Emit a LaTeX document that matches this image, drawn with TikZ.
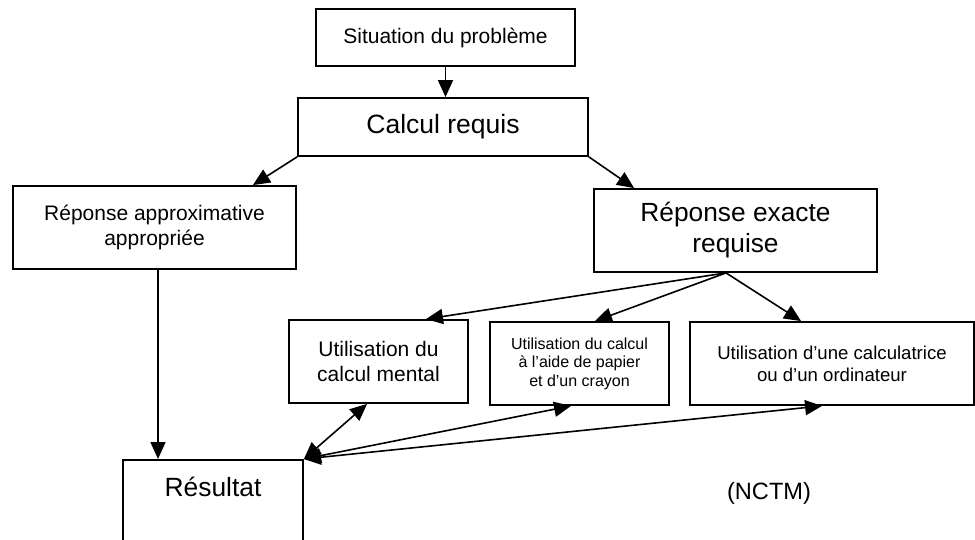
\documentclass[tikz,border=0pt]{standalone}
\usepackage{fontspec}
\setmainfont{Liberation Sans}
\usetikzlibrary{arrows.meta}

\begin{document}
\begin{tikzpicture}[
  x=1pt, y=-1pt,
  box/.style={draw=black, line width=1.8pt, inner sep=0pt, align=center},
  arrow/.style={-{Triangle[length=17pt,width=15pt]}, line width=1.6pt},
  both/.style={{Triangle[length=17pt,width=15pt]}-{Triangle[length=17pt,width=15pt]}, line width=1.6pt},
]
  \clip (0,0) rectangle (975,540);

  \node[box, minimum width=259pt, minimum height=57pt,
        font=\fontsize{21}{24}\selectfont] (sit) at (445.5,37.5) {Situation du problème};
  \node[box, minimum width=290pt, minimum height=58pt,
        font=\fontsize{26.5}{30}\selectfont] (calc) at (443,127) {Calcul requis};
  \node[box, minimum width=283pt, minimum height=83pt,
        font=\fontsize{21}{24.5}\selectfont] (approx) at (154.5,227.5) {Réponse approximative\\appropriée};
  \node[box, minimum width=283pt, minimum height=83pt,
        font=\fontsize{26.3}{31}\selectfont] (exact) at (735.5,230.5) {Réponse exacte\\requise};
  \node[box, minimum width=179pt, minimum height=83pt,
        font=\fontsize{21}{24.5}\selectfont] (mental) at (378.5,361.5) {Utilisation du\\calcul mental};
  \node[box, minimum width=179pt, minimum height=83pt,
        font=\fontsize{16}{18.5}\selectfont] (papier) at (579.5,363.5) {Utilisation du calcul\\à l’aide de papier\\et d’un crayon};
  \node[box, minimum width=284pt, minimum height=83pt,
        font=\fontsize{18.6}{22}\selectfont] (ordi) at (832,363.5) {Utilisation d’une calculatrice\\ou d’un ordinateur};
  \node[box, anchor=north, minimum width=180pt, inner ysep=18pt,
        text height=19pt, text depth=120pt,
        font=\fontsize{26.4}{30}\selectfont] (result) at (213,459) {Résultat};
  \node[font=\fontsize{23.6}{27}\selectfont] (nctm) at (769,493) {(NCTM)};

  \draw[arrow] (sit.south) -- (sit.south |- calc.north);
  \draw[arrow] (calc.south west) -- ([xshift=-44pt]approx.north east);
  \draw[arrow] (calc.south east) -- ([xshift=41pt]exact.north west);

  \coordinate (fan) at ([xshift=-9.5pt]exact.south);
  \draw[arrow] (fan) -- ([xshift=-43pt]mental.north east);
  \draw[arrow] (fan) -- ([xshift=15.5pt]papier.north);
  \draw[arrow] (fan) -- ([xshift=112pt]ordi.north west);

  \draw[arrow] ([xshift=3.5pt]approx.south) -- ([xshift=3.5pt]approx.south |- result.north);
  \draw[both] (result.north east) -- ([xshift=79pt]mental.south west);
  \draw[both] (result.north east) -- ([xshift=82pt]papier.south west);
  \draw[both] (result.north east) -- ([xshift=133pt]ordi.south west);
\end{tikzpicture}
\end{document}
